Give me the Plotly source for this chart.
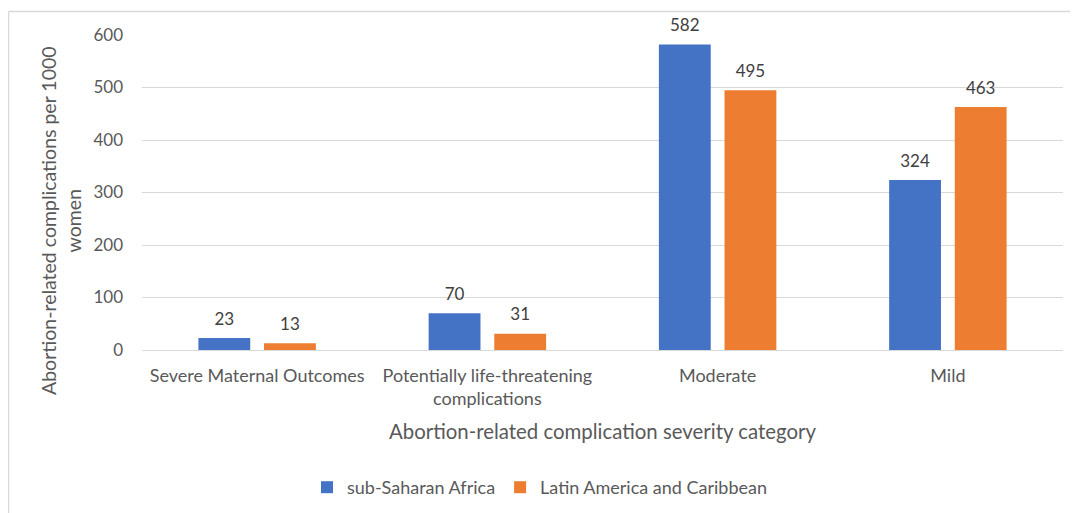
import plotly.graph_objects as go

categories = ["Severe Maternal Outcomes", "Potentially life-threatening<br>complications", "Moderate", "Mild"]
ssa_values = [23, 70, 582, 324]
lac_values = [13, 31, 495, 463]
series_names = ["sub-Saharan Africa", "Latin America and Caribbean"]
series_colors = ["#4472C4", "#ED7D31"]
y_ticks = [0, 100, 200, 300, 400, 500, 600]

FONT = "Lato"
TXT = "#595959"
GAP = 0.43

# page has an 8px body margin; figure is sized to fill the remaining window
OFF = 8
W, H = 1078 - OFF, 513 - OFF
PL, PR, PT, PB = 142, 1063, 35, 350  # plot area in window pixels
ML, MR, MT, MB = PL - OFF, 1078 - PR, PT - OFF, 513 - PB
PW, PH = W - ML - MR, H - MT - MB

def px_x(p):
    return (p - PL) / PW

def px_y(p):
    return (PB - p) / PH

fig = go.Figure()
for name, vals, col, grp in zip(series_names, [ssa_values, lac_values], series_colors, ["a", "b"]):
    fig.add_trace(go.Bar(
        x=categories, y=vals, name=name, offsetgroup=grp,
        marker=dict(color=col, line=dict(width=0)),
    ))
for name, vals, grp in zip(series_names, [ssa_values, lac_values], ["a", "b"]):
    fig.add_trace(go.Scatter(
        x=categories, y=vals, name=name + " labels", offsetgroup=grp,
        mode="markers+text", text=[str(v) for v in vals], textposition="top center",
        marker=dict(size=13, opacity=0), showlegend=False, hoverinfo="skip", cliponaxis=False,
        textfont=dict(family=FONT, size=17, color="#404040"),
    ))

fig.update_layout(
    width=W, height=H,
    margin=dict(l=ML, r=MR, t=MT, b=MB, autoexpand=False),
    paper_bgcolor="white", plot_bgcolor="white",
    barmode="group", bargap=GAP, bargroupgap=0.21,
    scattermode="group", scattergap=GAP,
    font=dict(family=FONT, size=17, color=TXT),
    showlegend=True,
    legend=dict(orientation="h", x=px_x(307), y=px_y(469), xanchor="left", yanchor="top",
                font=dict(family=FONT, size=18, color=TXT), itemwidth=30,
                traceorder="normal"),
    xaxis=dict(showgrid=False, showline=False, ticks="", tickfont=dict(family=FONT, size=18, color=TXT),
               ticklabelstandoff=13),
    yaxis=dict(range=[0, 600], tickvals=y_ticks, showgrid=True, gridcolor="#D9D9D9", gridwidth=1,
               zeroline=True, zerolinecolor="#D9D9D9", zerolinewidth=1, showline=False, ticks="",
               tickfont=dict(family=FONT, size=17, color=TXT), ticklabelstandoff=18),
    annotations=[
        dict(text="Abortion-related complications per 1000<br>women", xref="paper", yref="paper",
             x=px_x(61), y=px_y(221), textangle=-90, showarrow=False, xanchor="center", yanchor="middle",
             font=dict(family=FONT, size=19.5, color=TXT)),
        dict(text="Abortion-related complication severity category", xref="paper", yref="paper",
             x=px_x(602), y=px_y(431), showarrow=False, xanchor="center", yanchor="middle",
             font=dict(family=FONT, size=20.4, color=TXT)),
    ],
    shapes=[
        dict(type="line", xref="paper", yref="paper", x0=px_x(8.5), x1=px_x(1080), y0=px_y(11.5), y1=px_y(11.5),
             line=dict(color="#D9D9D9", width=1.5)),
        dict(type="line", xref="paper", yref="paper", x0=px_x(8.5), x1=px_x(8.5), y0=px_y(11.5), y1=px_y(515),
             line=dict(color="#D9D9D9", width=1.5)),
    ],
)

fig.write_html("out.html")
